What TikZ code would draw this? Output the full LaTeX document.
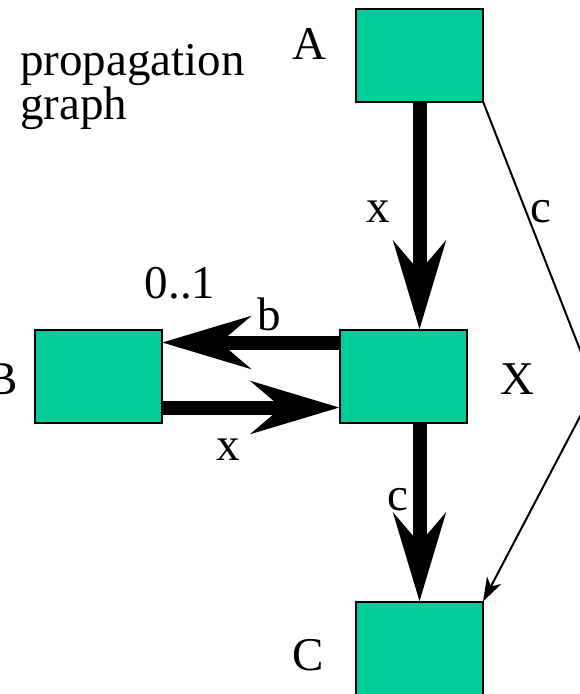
\documentclass[tikz,border=0pt]{standalone}
\usepackage{fontspec}
\setmainfont{Liberation Serif}
\usetikzlibrary{arrows.meta}
\definecolor{boxgreen}{RGB}{0,204,153}
\tikzset{
  box/.style={draw=black, line width=2pt, fill=boxgreen, minimum width=127pt, minimum height=93pt, inner sep=0pt, outer sep=0pt},
  lbl/.style={font=\fontsize{47}{50}\selectfont, inner sep=0pt, anchor=base},
  thick arrow/.style={line width=14pt, -{Stealth[length=88pt, width=52pt, inset=30pt]}},
  thin arrow/.style={line width=2pt, -{Stealth[length=24pt, width=16pt, inset=7pt]}}
}
\begin{document}
\begin{tikzpicture}[x=1pt, y=-1pt]
\useasboundingbox (0,0) rectangle (580,694);
\clip (0,0) rectangle (580,694);
\node[box] (A) at (419.5,55) {};
\node[box] (X) at (403,376) {};
\node[box] (B) at (98.5,376) {};
\node[box] (C) at (419.5,648) {};
\coordinate (corner) at (595,388);
\node[lbl, anchor=base west] (t1) at (20,75) {propagation};
\node[lbl, anchor=base west] (t2) at (20,119) {graph};
\node[lbl] (la) at (309,59) {A};
\node[lbl] (lx) at (517,394) {X};
\node[lbl] (lb) at (2,394) {B};
\node[lbl] (lc) at (308,670) {C};
\draw[thick arrow] (A.south) -- (A.south |- X.north);
\draw[thick arrow] (C.north |- X.south) -- (C.north);
\draw[thick arrow] ([yshift=-13pt]X.north west) -- ([yshift=-13pt]B.north east);
\draw[thick arrow] ([yshift=15pt]B.south east) -- ([yshift=15pt]X.south west);
\draw[thin arrow] (A.south east) -- (corner) -- (C.north east);
\node[lbl] (e1) at (378,222) {x};
\node[lbl] (e2) at (541,222) {c};
\node[lbl] (e3) at (180,298) {0..1};
\node[lbl] (e4) at (269,330) {b};
\node[lbl] (e5) at (228,460) {x};
\node[lbl] (e6) at (398,510) {c};
\end{tikzpicture}
\end{document}
